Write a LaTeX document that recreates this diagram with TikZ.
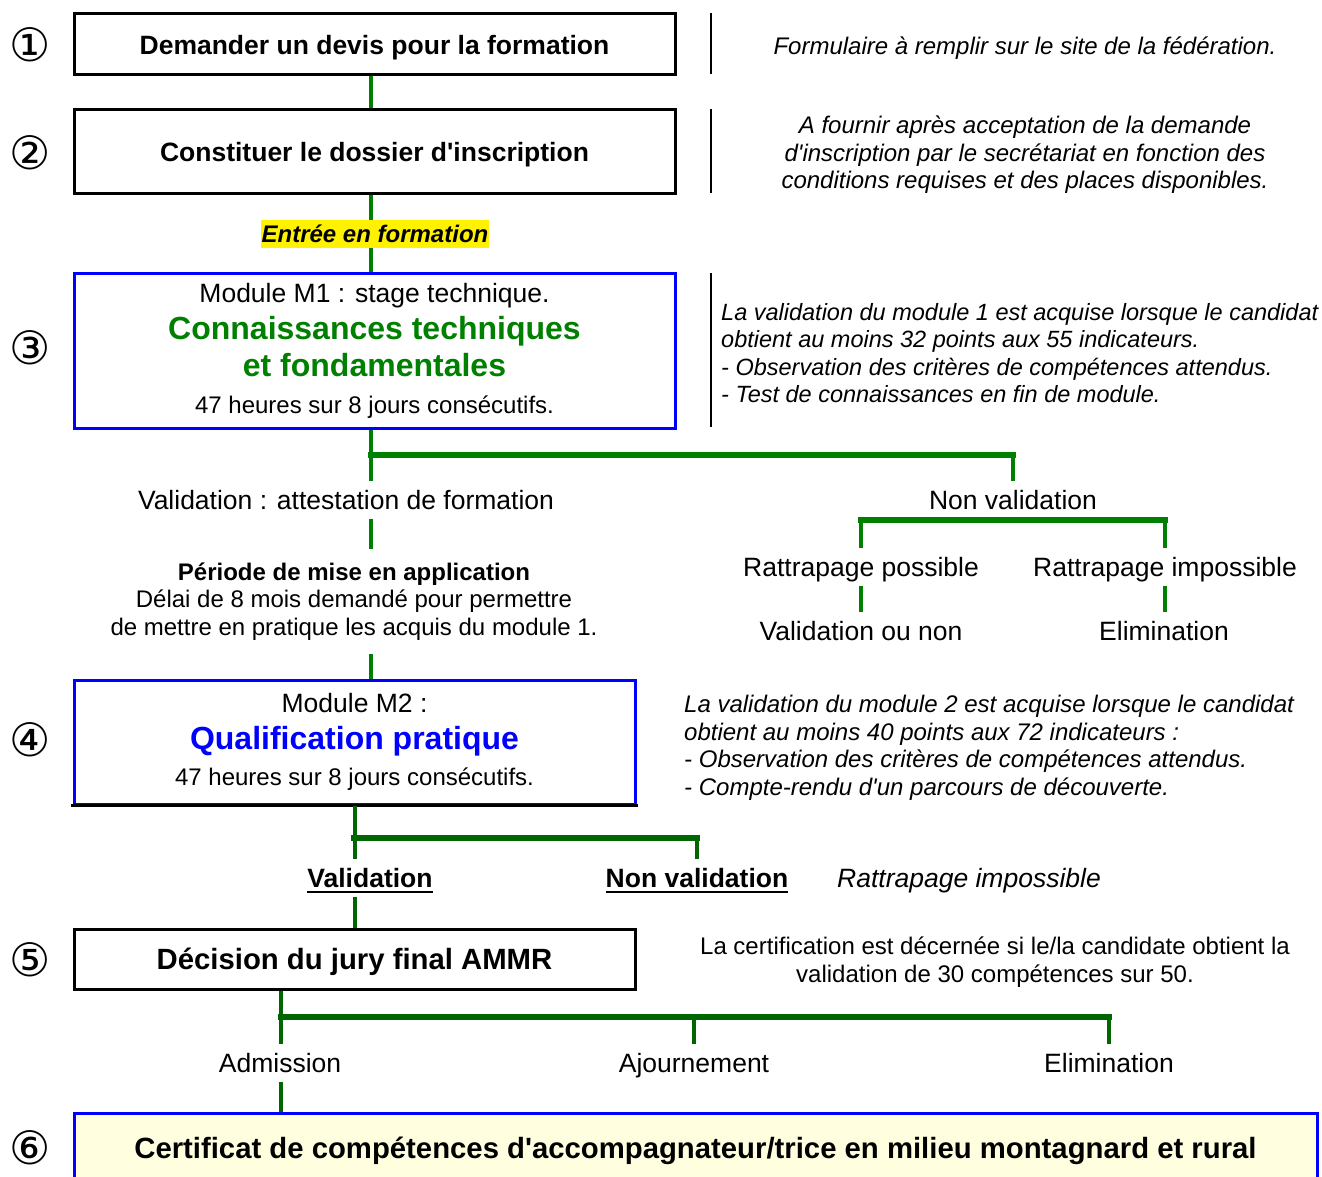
\documentclass[tikz,border=0pt]{standalone}
\usepackage{fontspec}
\setmainfont{Liberation Sans}
\newfontfamily\numfont{DejaVu Sans}
\definecolor{vert}{RGB}{0,128,0}
\definecolor{vertfonce}{RGB}{0,102,0}
\definecolor{jaunepale}{RGB}{255,255,224}
\newcommand{\petit}{\fontsize{24}{27.5}\selectfont}
\newcommand{\moyen}{\fontsize{26.5}{30}\selectfont}
\newcommand{\grand}{\fontsize{29.3}{33}\selectfont}
\newcommand{\grandtitre}[2]{{\color{#1}\bfseries\fontsize{32}{37}\selectfont #2}}
\newcommand{\souligne}[1]{\setbox0=\hbox{#1}\rlap{\rule[-5pt]{\wd0}{2pt}}\box0}
\newcommand{\apos}{\textquotesingle}

\begin{document}
\begin{tikzpicture}[x=1pt, y=-1pt,
  etape/.style={draw, line width=3pt, inner sep=0pt, text depth=0pt, font=\bfseries\moyen},
  module/.style={draw=blue, line width=3pt, inner sep=0pt, align=center, font=\moyen},
  numero/.style={font=\numfont\fontsize{46}{46}\selectfont, inner sep=0pt},
  lien/.style={draw=vert, line width=4pt},
  barre/.style={draw=vert, line width=6pt, line cap=rect},
  lienf/.style={draw=vertfonce, line width=4pt},
  barref/.style={draw=vertfonce, line width=6pt, line cap=rect},
  remarque/.style={font=\itshape\petit, inner sep=0pt},
  etiquette/.style={font=\moyen, inner xsep=0pt, inner ysep=9pt, text depth=0pt},
  trait/.style={line width=2.5pt}]
\path[fill=white, use as bounding box] (0,0) rectangle (1322,1177);
% numeros
\node[numero] (n1) at (30,45) {①};
\node[numero] (n2) at (30,153) {②};
\node[numero] (n3) at (30,348) {③};
\node[numero] (n4) at (30,740) {④};
\node[numero] (n5) at (30,960) {⑤};
\node[numero] (n6) at (30,1148) {⑥};
% etapes
\node[etape, minimum width=601, minimum height=61] (b1) at (374.5,44.5) {Demander un devis pour la formation};
\node[etape, minimum width=601, minimum height=84] (b2) at (374.5,152) {Constituer le dossier d\apos inscription};
\node[fill=yellow, font=\bfseries\itshape\petit, inner xsep=1pt, inner ysep=0pt, minimum height=28] (entree) at (375,234) {Entrée en formation};
\node[module, minimum width=601, minimum height=155] (b3) at (374.5,350.5)
  {Module M1 : stage technique.\\[7pt]
   \grandtitre{vert}{Connaissances techniques}\\[7pt]
   \grandtitre{vert}{et fondamentales}\\[7pt]
   {\petit 47 heures sur 8 jours consécutifs.}};
\node[module, minimum width=561, minimum height=124] (b4) at (354.5,742)
  {Module M2 :\\[7pt]
   \grandtitre{blue}{Qualification pratique}\\[6pt]
   {\petit 47 heures sur 8 jours consécutifs.}};
\draw[line width=3pt, line cap=rect] (b4.south west) -- (b4.south east);
\node[etape, minimum width=561, minimum height=60, font=\bfseries\grand] (b5) at (354.5,959) {Décision du jury final AMMR};
\node[etape, draw=blue, fill=jaunepale, minimum width=1243, minimum height=70, font=\bfseries\grand] (b6) at (695.5,1148) {Certificat de compétences d\apos accompagnateur/trice en milieu montagnard et rural};
% separateurs
\draw[trait] (711,13) -- (711,74);
\draw[trait] (711,109) -- (711,193);
\draw[trait] (711,273) -- (711,427);
% remarques
\node[remarque] (r1) at (1025,48) {Formulaire à remplir sur le site de la fédération.};
\node[remarque, align=center] (r2) at (1025,155) {A fournir après acceptation de la demande\\d\apos inscription par le secrétariat en fonction des\\conditions requises et des places disponibles.};
\node[remarque, align=left, anchor=west, font=\itshape\fontsize{23.5}{27.5}\selectfont] (r3) at (721,353) {La validation du module 1 est acquise lorsque le candidat\\obtient au moins 32 points aux 55 indicateurs.\\- Observation des critères de compétences attendus.\\- Test de connaissances en fin de module.};
\node[remarque, align=left, anchor=west] (r4) at (684,748) {La validation du module 2 est acquise lorsque le candidat\\obtient au moins 40 points aux 72 indicateurs :\\- Observation des critères de compétences attendus.\\- Compte-rendu d\apos un parcours de découverte.};
\node[remarque, font=\petit, align=center] (r5) at (995,962) {La certification est décernée si le/la candidate obtient la\\validation de 30 compétences sur 50.};
% issues
\node[etiquette] (val1) at (346,500) {Validation : attestation de formation};
\node[etiquette] (nonval1) at (1013,500) {Non validation};
\node[etiquette] (rp) at (861,567) {Rattrapage possible};
\node[etiquette] (ri) at (1165,567) {Rattrapage impossible};
\node[etiquette] (vn) at (861,631) {Validation ou non};
\node[etiquette] (elim1) at (1164,631) {Elimination};
\node[etiquette, font=\petit, align=center, inner ysep=14pt, text depth=] (periode) at (354,601.5) {{\bfseries Période de mise en application}\\Délai de 8 mois demandé pour permettre\\de mettre en pratique les acquis du module 1.};
\node[etiquette, font=\bfseries\moyen] (val2) at (370,878) {\souligne{Validation}};
\node[etiquette, font=\bfseries\moyen] (nonval2) at (697,878) {\souligne{Non validation}};
\node[etiquette, font=\itshape\moyen] (rattr) at (969,878) {Rattrapage impossible};
\node[etiquette] (adm) at (280,1063) {Admission};
\node[etiquette] (ajo) at (694,1063) {Ajournement};
\node[etiquette] (elim2) at (1109,1063) {Elimination};
% liens
\coordinate (j0) at (371,0);
\coordinate (j1) at (371,455);
\coordinate (j2) at (1013,520);
\coordinate (j3) at (354,838);
\coordinate (j4) at (281,1017);
\draw[lien] (b1.south -| j0) -- (b2.north -| j0);
\draw[lien] (b2.south -| j0) -- (entree.north -| j0);
\draw[lien] (entree.south -| j0) -- (b3.north -| j0);
\draw[lien] (j1 |- b3.south) -- (j1 |- val1.north);
\draw[barre] (j1) -- (j1 -| nonval1.north);
\draw[lien] (j1 -| nonval1.north) -- (nonval1.north);
\draw[lien] (j1 |- val1.south) -- (j1 |- periode.north);
\draw[lien] (j1 |- periode.south) -- (j1 |- b4.north);
\draw[barre] (j2 -| rp) -- (j2 -| ri);
\draw[lien] (j2 -| rp) -- (rp);
\draw[lien] (j2 -| ri) -- (ri);
\draw[lien] (rp) -- (vn);
\draw[lien] (ri) -- (ri |- elim1.north);
\draw[lienf] (b4.south) -- (b4.south |- val2.north);
\draw[barref] (j3) -- (j3 -| nonval2);
\draw[lienf] (j3 -| nonval2) -- (nonval2);
\draw[lienf] (b5.north |- val2.south) -- (b5.north);
\draw[lienf] (j4 |- b5.south) -- (j4 |- adm.north);
\draw[barref] (j4) -- (j4 -| elim2);
\draw[lienf] (j4 -| ajo) -- (ajo);
\draw[lienf] (j4 -| elim2) -- (elim2);
\draw[lienf] (j4 |- adm.south) -- (j4 |- b6.north);
\end{tikzpicture}
\end{document}
